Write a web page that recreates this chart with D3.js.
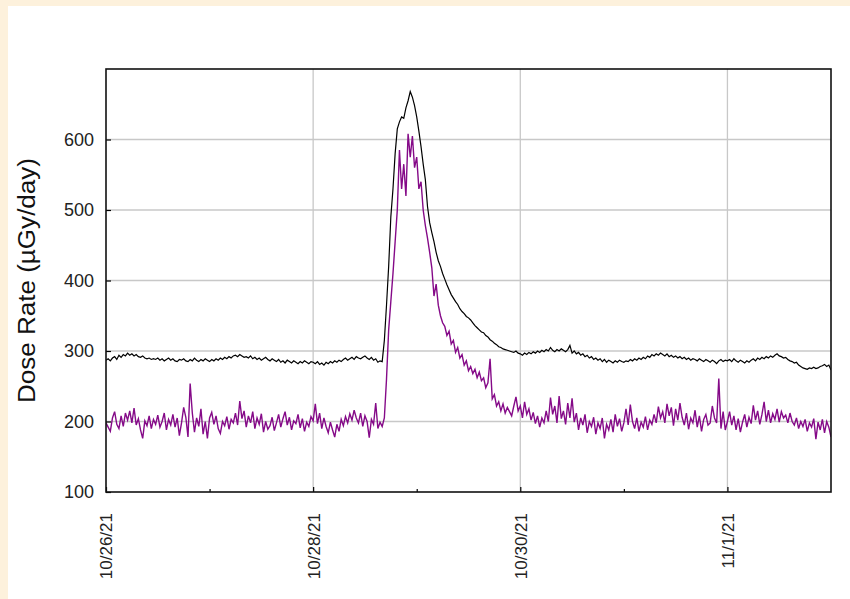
<!DOCTYPE html>
<html>
<head>
<meta charset="utf-8">
<script src="https://cdn.jsdelivr.net/npm/d3@7"></script>
<style>
  html, body { margin: 0; padding: 0; background: #fdf1dc; }
  svg { display: block; }
</style>
</head>
<body>
<svg id="chart" width="850" height="599"></svg>
<script>
// ---- data (half-hour samples starting 10/26/21 00:00 UTC) ----
const startDate = Date.UTC(2021, 9, 26, 0, 0);
const endDate = Date.UTC(2021, 10, 2, 0, 0);
const stepMinutes = 30;

const yTicks = [100, 200, 300, 400, 500, 600];
const xTickDates = ["2021-10-26", "2021-10-28", "2021-10-30", "2021-11-01"];
const xTickLabels = ["10/26/21", "10/28/21", "10/30/21", "11/1/21"];
const xMinorDates = ["2021-10-27", "2021-10-29", "2021-10-31"];
const yTitle = "Dose Rate (\u00B5Gy/day)";

// black series
const totalDose = [
  287,289,286,290,292,288,294,291,295,293,297,294,296,293,295,292,291,293,290,289,
  290,288,289,288,290,287,289,286,288,290,287,289,286,285,288,287,289,286,285,288,
  286,290,287,285,288,286,289,287,
  285,288,286,289,287,290,288,291,289,292,290,293,294,292,295,293,291,292,290,293,
  289,291,288,290,287,289,291,288,286,289,287,285,288,284,286,283,287,285,283,286,
  284,282,285,283,286,284,282,285,
  284,282,285,281,283,280,284,282,285,283,286,284,287,285,288,290,287,289,291,288,
  292,290,289,291,293,290,288,291,287,289,284,286,
  285,315,365,420,490,530,580,615,625,632,630,645,655,668,660,648,
  632,612,590,565,543,505,482,468,455,440,428,420,410,402,394,387,380,375,370,366,
  360,356,353,349,347,344,340,336,333,330,327,326,322,320,316,314,311,309,306,305,
  303,302,301,300,299,298,300,297,
  296,294,297,295,298,296,299,297,300,298,301,299,302,300,305,301,299,302,300,303,
  301,299,302,308,297,300,296,298,294,296,292,294,290,292,288,290,287,289,285,288,
  284,287,285,283,286,284,287,285,
  284,286,285,288,286,289,287,290,288,291,289,293,291,295,293,296,294,297,295,293,
  296,292,294,291,293,290,292,289,291,288,290,287,289,288,286,289,287,285,288,286,
  284,287,285,282,286,288,285,287,
  286,288,285,289,286,284,287,285,283,286,284,287,289,286,290,288,291,289,292,290,
  293,291,294,296,293,292,290,291,288,286,285,283,284,280,278,276,275,274,276,275,
  277,275,276,278,279,281,278,280,273
];

// purple series
const channelDose = [
  198,192,186,205,214,196,190,208,193,212,202,215,198,219,195,204,188,176,201,194,
  208,190,203,196,209,192,200,212,188,203,195,210,192,205,180,198,220,206,178,254,
  212,185,205,193,218,182,200,176,
  205,213,196,208,190,183,200,194,207,189,203,198,212,195,229,204,215,192,208,198,
  214,190,205,196,211,185,200,189,194,206,187,198,210,192,204,214,195,206,188,201,
  197,210,191,204,186,199,193,207,
  201,225,197,212,190,205,193,184,199,188,178,196,186,203,194,207,198,211,202,216,
  205,198,212,193,208,200,177,203,196,226,190,199,
  193,205,260,330,370,410,455,500,585,530,565,520,608,575,605,560,
  575,530,540,500,478,460,440,418,378,395,365,350,340,335,322,328,310,315,298,305,
  290,295,280,286,272,278,268,274,262,270,258,262,248,255,289,232,238,222,228,215,
  225,212,220,214,208,222,235,215,
  222,205,228,210,218,202,213,197,208,192,205,198,215,200,234,210,222,198,236,204,
  215,196,226,205,233,199,212,188,205,195,210,184,200,193,206,182,198,190,205,176,
  196,188,203,185,210,193,204,186,
  198,218,195,224,200,190,205,186,199,192,207,188,202,196,210,198,221,205,214,198,
  225,208,220,194,218,202,226,206,195,212,189,205,198,216,192,208,186,203,210,195,
  198,222,205,198,261,190,214,188,
  200,214,195,208,188,204,185,199,210,192,206,197,223,202,215,196,210,228,200,216,
  198,211,203,218,199,214,205,209,198,212,200,195,205,190,200,193,203,186,198,192,
  204,175,199,188,203,184,200,192,178
];

// ---- layout ----
const svg = d3.select("#chart");
const W = 850, H = 599;
const plot = { left: 106, right: 831, top: 69, bottom: 492 };
const font = "'Liberation Sans', Arial, Helvetica, sans-serif";

svg.append("rect").attr("x", 0).attr("y", 0).attr("width", W).attr("height", H).attr("fill", "#fdf1dc");
svg.append("rect").attr("x", 8).attr("y", 6).attr("width", W - 8).attr("height", H - 6).attr("fill", "#ffffff");

const x = d3.scaleUtc().domain([new Date(startDate), new Date(endDate)]).range([plot.left, plot.right]);
const y = d3.scaleLinear().domain([100, 700]).range([plot.bottom, plot.top]);

const timeAt = i => new Date(startDate + i * stepMinutes * 60000);
const parse = d3.utcParse("%Y-%m-%d");

// grid
const grid = svg.append("g").attr("stroke", "#c8c8c8").attr("stroke-width", 1.3);
grid.selectAll("line.h").data(yTicks.filter(v => v > 100)).join("line")
  .attr("x1", plot.left).attr("x2", plot.right)
  .attr("y1", d => y(d)).attr("y2", d => y(d));
grid.selectAll("line.v").data(xTickDates.slice(1)).join("line")
  .attr("y1", plot.top).attr("y2", plot.bottom)
  .attr("x1", d => x(parse(d))).attr("x2", d => x(parse(d)));

// clip
svg.append("clipPath").attr("id", "clip").append("rect")
  .attr("x", plot.left).attr("y", plot.top)
  .attr("width", plot.right - plot.left).attr("height", plot.bottom - plot.top);

const line = d3.line().x((d, i) => x(timeAt(i))).y(d => y(d));

svg.append("path").datum(channelDose)
  .attr("clip-path", "url(#clip)")
  .attr("fill", "none").attr("stroke", "#850a88").attr("stroke-width", 1.4)
  .attr("stroke-linejoin", "miter").attr("d", line);

svg.append("path").datum(totalDose)
  .attr("clip-path", "url(#clip)")
  .attr("fill", "none").attr("stroke", "#000000").attr("stroke-width", 1.2)
  .attr("d", line);

// axes
const yAxis = d3.axisLeft(y).tickValues(yTicks).tickSize(-5).tickPadding(12);
const gy = svg.append("g").attr("transform", `translate(${plot.left},0)`).call(yAxis);
gy.select(".domain").remove();
gy.selectAll("line").attr("stroke", "#000").attr("stroke-width", 1.2);
gy.selectAll("text").attr("font-family", font).attr("font-size", 18).attr("fill", "#222");

const xAxis = d3.axisBottom(x).tickValues(xTickDates.map(parse))
  .tickFormat((d, i) => xTickLabels[i]).tickSize(-5);
const gx = svg.append("g").attr("transform", `translate(0,${plot.bottom})`).call(xAxis);
gx.select(".domain").remove();
gx.selectAll("line").attr("stroke", "#000").attr("stroke-width", 1.2);
gx.selectAll("text")
  .attr("font-family", font).attr("font-size", 17).attr("fill", "#222")
  .attr("y", 0).attr("dy", "0.35em").attr("x", 0)
  .attr("text-anchor", "end")
  .attr("transform", "translate(0,21) rotate(-90)");

const xMinor = d3.axisBottom(x).tickValues(xMinorDates.map(parse)).tickFormat("").tickSize(-3);
const gxm = svg.append("g").attr("transform", `translate(0,${plot.bottom})`).call(xMinor);
gxm.select(".domain").remove();
gxm.selectAll("line").attr("stroke", "#000").attr("stroke-width", 1.2);

// frame
svg.append("rect")
  .attr("x", plot.left).attr("y", plot.top)
  .attr("width", plot.right - plot.left).attr("height", plot.bottom - plot.top)
  .attr("fill", "none").attr("stroke", "#111").attr("stroke-width", 1.6);

// y title
svg.append("text")
  .attr("transform", `translate(35,${(158 + 403) / 2}) rotate(-90)`)
  .attr("text-anchor", "middle")
  .attr("font-family", font).attr("font-size", 23).attr("fill", "#111")
  .attr("textLength", 245).attr("lengthAdjust", "spacingAndGlyphs")
  .text(yTitle);
</script>
</body>
</html>
